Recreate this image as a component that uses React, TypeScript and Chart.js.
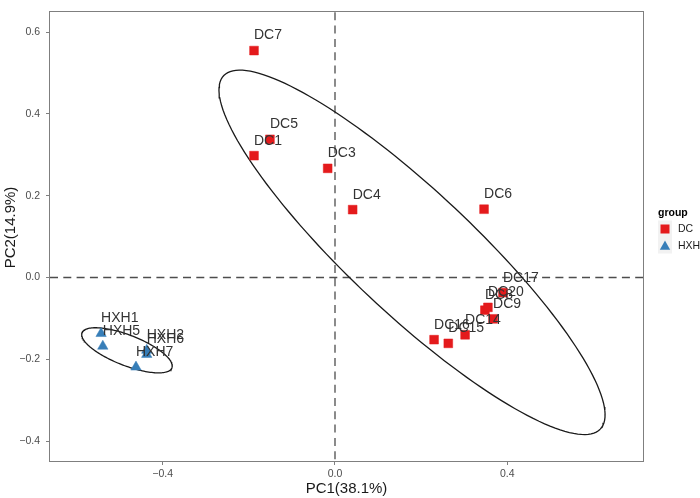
import React, { useEffect, useRef } from "react";
import { Chart, registerables } from "chart.js";

Chart.register(...registerables);

// ---- data ----
const DC_LABELS = ["DC7", "DC5", "DC1", "DC3", "DC4", "DC6", "DC17", "DC8", "DC20", "DC9", "DC14", "DC15", "DC16"];
const DC_PC1 = [-0.188, -0.151, -0.188, -0.017, 0.041, 0.346, 0.39, 0.348, 0.355, 0.367, 0.302, 0.263, 0.23];
const DC_PC2 = [0.555, 0.338, 0.298, 0.267, 0.166, 0.167, -0.037, -0.08, -0.073, -0.101, -0.14, -0.161, -0.152];

const HXH_LABELS = ["HXH1", "HXH5", "HXH2", "HXH6", "HXH7"];
const HXH_PC1 = [-0.543, -0.539, -0.437, -0.437, -0.462];
const HXH_PC2 = [-0.137, -0.168, -0.178, -0.188, -0.219];

const X_TICKS = [-0.4, 0, 0.4];
const Y_TICKS = [-0.4, -0.2, 0, 0.2, 0.4, 0.6];

const GROUPS = ["DC", "HXH"];
const X_TITLE = "PC1(38.1%)";
const Y_TITLE = "PC2(14.9%)";
const LEGEND_TITLE = "group";

// confidence ellipses: centre and the two semi-axis vectors (data units)
const DC_ELLIPSE = { cx: 0.1788, cy: 0.0616, ax: 0.4369, ay: -0.4324, bx: -0.0999, by: -0.1076 };
const HXH_ELLIPSE = { cx: -0.4829, cy: -0.178, ax: 0.1043, ay: -0.0431, bx: -0.01337, by: -0.03448 };

const RED = "#E41A1C";
const BLUE = "#377EB8";
const FONT = "'Liberation Sans', Arial, sans-serif";

function ellipsePts(e: { cx: number; cy: number; ax: number; ay: number; bx: number; by: number }) {
  const pts: { x: number; y: number }[] = [];
  const n = 160;
  for (let i = 0; i <= n; i++) {
    const t = (i / n) * Math.PI * 2;
    pts.push({ x: e.cx + e.ax * Math.cos(t) + e.bx * Math.sin(t), y: e.cy + e.ay * Math.cos(t) + e.by * Math.sin(t) });
  }
  return pts;
}

const fmt = (v: number) => (v < 0 ? "\u2212" : "") + Math.abs(v).toFixed(1);

const overlayPlugin = {
  id: "overlay",
  beforeDatasetsDraw(chart: any) {
    const { ctx, chartArea: a, scales } = chart;
    const x0 = scales.x.getPixelForValue(0);
    const y0 = scales.y.getPixelForValue(0);
    ctx.save();
    ctx.strokeStyle = "#4d4d4d";
    ctx.lineWidth = 1.3;
    ctx.setLineDash([8, 5.3]);
    ctx.beginPath();
    ctx.moveTo(a.left, y0);
    ctx.lineTo(a.right, y0);
    ctx.moveTo(x0, a.top);
    ctx.lineTo(x0, a.bottom);
    ctx.stroke();
    ctx.restore();
  },
  afterDatasetsDraw(chart: any) {
    const { ctx } = chart;
    ctx.save();
    ctx.font = `14px ${FONT}`;
    ctx.fillStyle = "#333333";
    ctx.textAlign = "left";
    ctx.textBaseline = "middle";
    chart.data.datasets.forEach((ds: any, i: number) => {
      if (!ds.pointLabels) return;
      const meta = chart.getDatasetMeta(i);
      meta.data.forEach((el: any, j: number) => {
        ctx.fillText(ds.pointLabels[j], el.x, el.y - 15);
      });
    });
    ctx.restore();
  },
  afterDraw(chart: any) {
    const { ctx, chartArea: a } = chart;
    ctx.save();
    // panel border
    ctx.strokeStyle = "#7f7f7f";
    ctx.lineWidth = 1;
    ctx.strokeRect(Math.round(a.left) - 0.5, Math.round(a.top) - 0.5, Math.round(a.right - a.left) + 1, Math.round(a.bottom - a.top) + 1);

    // axis titles
    ctx.fillStyle = "#1a1a1a";
    ctx.font = `15px ${FONT}`;
    ctx.textAlign = "center";
    ctx.textBaseline = "middle";
    ctx.fillText(X_TITLE, (a.left + a.right) / 2, 489);
    ctx.save();
    ctx.translate(10.5, 227.5);
    ctx.rotate(-Math.PI / 2);
    ctx.fillText(Y_TITLE, 0, 0);
    ctx.restore();

    // legend
    ctx.textAlign = "left";
    ctx.font = `bold 10.5px ${FONT}`;
    ctx.fillStyle = "#000";
    ctx.fillText(LEGEND_TITLE, 658, 213.5);
    ctx.fillStyle = "#f2f2f2";
    ctx.fillRect(658, 220.5, 14, 16.5);
    ctx.fillRect(658, 237, 14, 16.5);
    ctx.fillStyle = RED;
    ctx.fillRect(660.5, 224.5, 9, 9);
    ctx.fillStyle = BLUE;
    ctx.beginPath();
    ctx.moveTo(665, 240.5);
    ctx.lineTo(670.2, 249.8);
    ctx.lineTo(659.8, 249.8);
    ctx.closePath();
    ctx.fill();
    ctx.fillStyle = "#1a1a1a";
    ctx.font = `10.5px ${FONT}`;
    ctx.fillText(GROUPS[0], 678, 229.5);
    ctx.fillText(GROUPS[1], 678, 246.5);
    ctx.restore();
  },
};

export default function App() {
  const ref = useRef<HTMLCanvasElement | null>(null);
  useEffect(() => {
    if (!ref.current) return;
    const tickFont = { family: FONT, size: 10.5 };
    const chart = new Chart(ref.current, {
      type: "scatter",
      data: {
        datasets: [
          {
            label: GROUPS[0],
            data: DC_PC1.map((x, i) => ({ x, y: DC_PC2[i] })),
            pointLabels: DC_LABELS,
            pointStyle: "rect",
            pointRadius: 6.2,
            pointHoverRadius: 6.2,
            backgroundColor: RED,
            borderColor: RED,
            borderWidth: 0.5,
          } as any,
          {
            label: GROUPS[1],
            data: HXH_PC1.map((x, i) => ({ x, y: HXH_PC2[i] })),
            pointLabels: HXH_LABELS,
            pointStyle: "triangle",
            pointRadius: 6,
            pointHoverRadius: 6,
            backgroundColor: BLUE,
            borderColor: BLUE,
            borderWidth: 0.5,
          } as any,
          {
            label: "DC ellipse",
            data: ellipsePts(DC_ELLIPSE),
            showLine: true,
            pointRadius: 0,
            borderColor: "#1a1a1a",
            borderWidth: 1.3,
            fill: false,
          },
          {
            label: "HXH ellipse",
            data: ellipsePts(HXH_ELLIPSE),
            showLine: true,
            pointRadius: 0,
            borderColor: "#1a1a1a",
            borderWidth: 1.3,
            fill: false,
          },
        ],
      },
      options: {
        animation: false,
        responsive: false,
        devicePixelRatio: 1,
        layout: { padding: { top: 3, right: 57, left: 0, bottom: 0 } },
        plugins: { legend: { display: false }, tooltip: { enabled: false } },
        scales: {
          x: {
            type: "linear",
            min: -0.6616,
            max: 0.715,
            afterBuildTicks: (s: any) => {
              s.ticks = X_TICKS.map((v) => ({ value: v }));
            },
            afterFit: (s: any) => {
              s.height = 37;
            },
            ticks: { callback: (v: any) => fmt(Number(v)), font: tickFont, color: "#4d4d4d", padding: 3, maxRotation: 0 },
            grid: { display: true, drawOnChartArea: false, drawTicks: true, tickLength: 4, color: "#7f7f7f" },
            border: { display: false },
          },
          y: {
            type: "linear",
            min: -0.4487,
            max: 0.6486,
            afterBuildTicks: (s: any) => {
              s.ticks = Y_TICKS.map((v) => ({ value: v }));
            },
            afterFit: (s: any) => {
              s.width = 50;
            },
            ticks: { callback: (v: any) => fmt(Number(v)), font: tickFont, color: "#4d4d4d", padding: 6 },
            grid: { display: true, drawOnChartArea: false, drawTicks: true, tickLength: 4, color: "#7f7f7f" },
            border: { display: false },
          },
        },
      } as any,
      plugins: [overlayPlugin],
    });
    return () => chart.destroy();
  }, []);
  return (
    <div style={{ position: "fixed", left: 0, top: 0, width: 700, height: 498, background: "#fff" }}>
      <canvas ref={ref} width={700} height={498} style={{ display: "block" }} />
    </div>
  );
}
